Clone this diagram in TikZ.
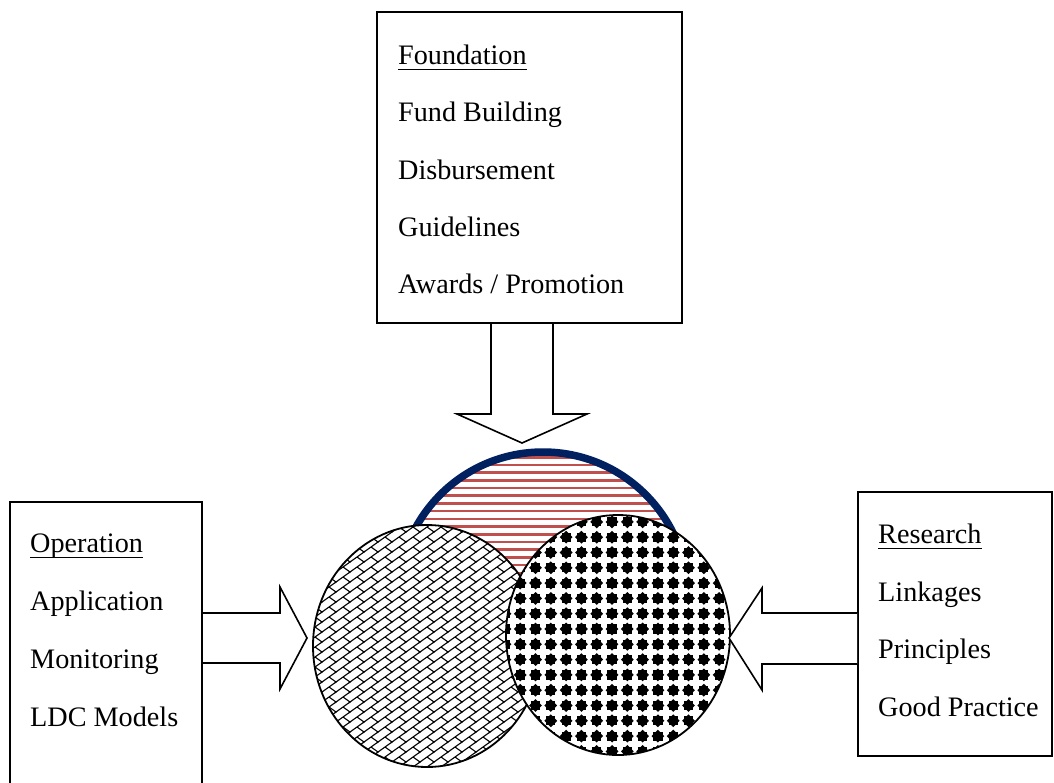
\documentclass[tikz,border=0pt]{standalone}
\usepackage{fontspec}
\setmainfont{Liberation Serif}
\usetikzlibrary{calc,patterns,shapes.geometric}
\definecolor{navy}{HTML}{002060}
\definecolor{stripered}{HTML}{C0504D}
\pgfdeclarepatternformonly{dbrick}{\pgfqpoint{-1pt}{-1pt}}{\pgfqpoint{15pt}{11pt}}{\pgfqpoint{14pt}{10pt}}{%
  \pgfsetlinewidth{1.1pt}%
  \pgfpathmoveto{\pgfqpoint{-1.4pt}{-1pt}}\pgfpathlineto{\pgfqpoint{15.4pt}{11pt}}%
  \pgfpathmoveto{\pgfqpoint{7pt}{5pt}}\pgfpathlineto{\pgfqpoint{14pt}{0pt}}%
  \pgfusepath{stroke}}
\pgfdeclarepatternformonly{diamondgrid}{\pgfqpoint{-7.65pt}{-7.65pt}}{\pgfqpoint{7.65pt}{7.65pt}}{\pgfqpoint{15.3pt}{15.3pt}}{%
  \pgfpathmoveto{\pgfqpoint{0pt}{6.4pt}}\pgfpathlineto{\pgfqpoint{6.4pt}{0pt}}%
  \pgfpathlineto{\pgfqpoint{0pt}{-6.4pt}}\pgfpathlineto{\pgfqpoint{-6.4pt}{0pt}}\pgfpathclose
  \pgfusepath{fill}%
  \pgfpathrectangle{\pgfqpoint{-4.6pt}{-4.6pt}}{\pgfqpoint{9.2pt}{9.2pt}}%
  \pgfusepath{fill}}
\pgfdeclarepatternformonly{hstripes}{\pgfqpoint{-1pt}{0pt}}{\pgfqpoint{401pt}{7.7pt}}{\pgfqpoint{400pt}{7.7pt}}{%
  \pgfpathrectangle{\pgfqpoint{-1pt}{0pt}}{\pgfqpoint{402pt}{2.6pt}}%
  \pgfusepath{fill}}
\tikzset{
  box/.style={draw, line width=2pt, rectangle, inner sep=0pt},
  lbl/.style={anchor=base west, inner sep=0pt, font=\fontsize{28.2}{34}\selectfont},
  uline/.style={line width=1pt},
  blockarrow/.style={draw, line width=1.6pt, fill=white, line join=miter},
  disc/.style={ellipse, draw, line width=1.8pt, inner sep=0pt}
}
\begin{document}
\begin{tikzpicture}[x=1pt, y=-1pt]
\clip (0,0) rectangle (1054,782);
\fill[white] (0,0) rectangle (1054,782);

% boxes
\node[box, minimum width=305pt, minimum height=311pt] (found) at (529.5,167.5) {};
\node[box, minimum width=192pt, minimum height=298pt] (ops) at (106,651) {};
\node[box, minimum width=194pt, minimum height=264pt] (res) at (955,624) {};

% texts
\node[lbl] (f0) at (398,64) {Foundation};
\node[lbl] (f1) at (398,121) {Fund Building};
\node[lbl] (f2) at (398,179) {Disbursement};
\node[lbl] (f3) at (398,236) {Guidelines};
\node[lbl] (f4) at (398,293) {Awards / Promotion};
\draw[uline] ($(f0.base west)+(0,5)$) -- ($(f0.base east)+(0,5)$);

\node[lbl] (o0) at (30,552) {Operation};
\node[lbl] (o1) at (30,610) {Application};
\node[lbl] (o2) at (30,668) {Monitoring};
\node[lbl] (o3) at (30,726) {LDC Models};
\draw[uline] ($(o0.base west)+(0,5)$) -- ($(o0.base east)+(0,5)$);

\node[lbl] (r0) at (878,543) {Research};
\node[lbl] (r1) at (878,601) {Linkages};
\node[lbl] (r2) at (878,658) {Principles};
\node[lbl] (r3) at (878,716) {Good Practice};
\draw[uline] ($(r0.base west)+(0,5)$) -- ($(r0.base east)+(0,5)$);

% top cap (striped half disc with navy rim)
\coordinate (capc) at (543,597);
\fill[pattern=hstripes, pattern color=stripered] ($(capc)+(-145,0)$) arc[start angle=180, end angle=0, radius=145pt] -- cycle;
\draw[navy, line width=7.5pt] ($(capc)+(-145,0)$) arc[start angle=180, end angle=0, radius=145pt];

% discs
\node[disc, minimum width=228pt, minimum height=242pt, preaction={fill=white}, pattern=dbrick] (opd) at (427,646) {};
\node[disc, minimum width=224pt, minimum height=240pt, preaction={fill=white}, pattern=diamondgrid] (resd) at (618,635) {};

% block arrows
\draw[blockarrow] ($(found.south)+(-38.5,0)$) -- ++(0,90) -- ++(-34,0) -- ($(found.south)+(-7.5,119)$)
  -- ($(found.south)+(57.5,90)$) -- ++(-34,0) -- ++(0,-90);
\draw[blockarrow] ($(ops.east)+(0,-38)$) -- ++(77,0) -- ++(0,-26) -- ($(ops.east)+(104,-13)$)
  -- ($(ops.east)+(77,38)$) -- ++(0,-26) -- ++(-77,0);
\draw[blockarrow] ($(res.west)+(0,-11)$) -- ++(-95,0) -- ++(0,-25) -- ($(res.west)+(-128,14)$)
  -- ($(res.west)+(-95,66)$) -- ++(0,-26) -- ++(95,0);
\end{tikzpicture}
\end{document}
